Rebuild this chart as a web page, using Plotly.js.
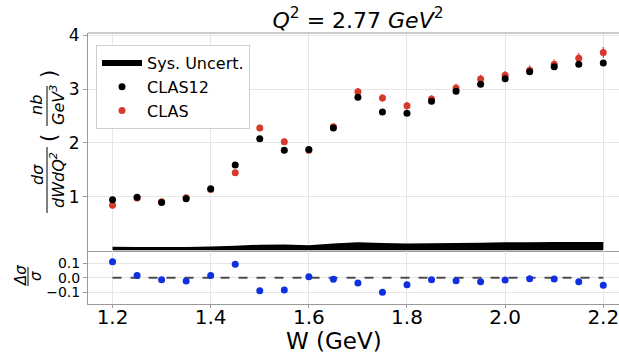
<!DOCTYPE html>
<html>
<head>
<meta charset="utf-8">
<script src="https://cdn.plot.ly/plotly-3.0.1.min.js"></script>
<style>html,body{margin:0;padding:0;background:#fff;overflow:hidden}</style>
</head>
<body>
<div id="chart" style="width:619px;height:353px"></div>
<script>
// W bins (GeV)
const W = [1.20, 1.25, 1.30, 1.35, 1.40, 1.45, 1.50, 1.55, 1.60, 1.65, 1.70, 1.75, 1.80, 1.85, 1.90, 1.95, 2.00, 2.05, 2.10, 2.15, 2.20];
// CLAS12 cross section (nb/GeV^3)
const clas12 = [0.944, 0.990, 0.895, 0.963, 1.148, 1.590, 2.075, 1.862, 1.876, 2.275, 2.846, 2.574, 2.550, 2.772, 2.957, 3.090, 3.190, 3.320, 3.415, 3.460, 3.485];
const clas12Err = [0.03, 0.03, 0.03, 0.03, 0.03, 0.04, 0.04, 0.04, 0.04, 0.04, 0.05, 0.05, 0.05, 0.05, 0.05, 0.05, 0.05, 0.05, 0.05, 0.05, 0.05];
// CLAS cross section (nb/GeV^3)
const clas = [0.840, 0.975, 0.905, 0.980, 1.135, 1.445, 2.275, 2.020, 1.865, 2.300, 2.950, 2.835, 2.690, 2.815, 3.020, 3.185, 3.255, 3.350, 3.460, 3.570, 3.680];
const clasErr = [0.04, 0.04, 0.04, 0.04, 0.04, 0.05, 0.06, 0.06, 0.06, 0.06, 0.07, 0.07, 0.07, 0.07, 0.08, 0.08, 0.08, 0.09, 0.09, 0.10, 0.10];
// Systematic uncertainty band height
const sysUnc = [0.070, 0.068, 0.065, 0.068, 0.075, 0.090, 0.110, 0.112, 0.100, 0.130, 0.155, 0.140, 0.130, 0.135, 0.140, 0.145, 0.155, 0.155, 0.160, 0.160, 0.160];
// Relative difference
const relDiff = [0.108, 0.015, -0.014, -0.023, 0.014, 0.092, -0.090, -0.085, 0.007, -0.011, -0.037, -0.099, -0.048, -0.014, -0.021, -0.028, -0.016, -0.007, -0.009, -0.028, -0.052];

const xTicks = [1.2, 1.4, 1.6, 1.8, 2.0, 2.2];
const yTicksMain = [1, 2, 3, 4];
const yTicksRatio = [-0.1, 0.0, 0.1];

const FONT = 'DejaVu Sans, sans-serif';
const SPINE = '#9a9a9a';
const GRID = '#e6e6e6';

const traces = [
  {x: W, y: sysUnc, type: 'scatter', mode: 'none', fill: 'tozeroy', fillcolor: '#000000',
   name: 'Sys. Uncert.', xaxis: 'x', yaxis: 'y', legendrank: 1},
  {x: W, y: clas, type: 'scatter', mode: 'markers', name: 'CLAS', xaxis: 'x', yaxis: 'y',
   marker: {color: '#d63a2c', size: 7},
   error_y: {type: 'data', array: clasErr, color: '#d63a2c', thickness: 1.2, width: 0},
   legendrank: 3},
  {x: W, y: clas12, type: 'scatter', mode: 'markers', name: 'CLAS12', xaxis: 'x', yaxis: 'y',
   marker: {color: '#000000', size: 7},
   error_y: {type: 'data', array: clas12Err, color: '#000000', thickness: 1.2, width: 0},
   legendrank: 2},
  {x: [W[0], W[W.length - 1]], y: [0, 0], type: 'scatter', mode: 'lines', xaxis: 'x2', yaxis: 'y2',
   line: {color: '#4d4d4d', dash: 'dash', width: 2}, showlegend: false},
  {x: W, y: relDiff, type: 'scatter', mode: 'markers', xaxis: 'x2', yaxis: 'y2',
   marker: {color: '#1030e0', size: 7}, showlegend: false}
];

// pixel -> paper helpers (plot area: left 88, width 531, top 33, height 271)
const px = v => (v - 88) / 531;
const py = v => (304 - v) / 271;

const ann = (text, x, y, size, italic, angle) => ({
  text: italic ? '<i>' + text + '</i>' : text,
  xref: 'paper', yref: 'paper', x: px(x), y: py(y), xanchor: 'center', yanchor: 'middle',
  showarrow: false, textangle: angle === undefined ? -90 : angle, font: {family: FONT, size: size, color: '#000'}
});
const bar = (x, y0, y1) => ({type: 'line', xref: 'paper', yref: 'paper', x0: px(x), x1: px(x), y0: py(y0), y1: py(y1),
  line: {color: '#000', width: 1}});

const layout = {
  width: 619, height: 353,
  margin: {l: 88, r: 0, t: 33, b: 49},
  paper_bgcolor: '#fff', plot_bgcolor: '#fff',
  font: {family: FONT, color: '#000'},
  showlegend: true,
  title: {text: '<i>Q</i><sup>2</sup> = 2.77 <i>GeV</i><sup>2</sup>', font: {family: FONT, size: 22, color: '#000'},
          x: 358 / 619, xanchor: 'center', y: 1 - 20 / 353, yanchor: 'middle'},
  legend: {x: px(96), y: py(45), xanchor: 'left', yanchor: 'top', bgcolor: 'rgba(255,255,255,0.85)',
           bordercolor: '#d0d0d0', borderwidth: 1, font: {family: FONT, size: 16, color: '#000'},
           itemwidth: 40, traceorder: 'normal'},
  xaxis: {domain: [0, 1], range: [1.15, 2.232], anchor: 'y', tickvals: xTicks, showticklabels: false,
          showgrid: true, gridcolor: GRID, zeroline: false, showline: true, linecolor: SPINE, linewidth: 1, ticks: ''},
  yaxis: {domain: [0.197, 1], range: [0, 4.04], anchor: 'x', tickvals: yTicksMain, tickformat: 'd',
          ticks: 'outside', ticklen: 4, tickcolor: SPINE, showline: true, linecolor: SPINE, linewidth: 1,
          showgrid: true, gridcolor: GRID, zeroline: false, tickfont: {family: FONT, size: 17, color: '#000'}},
  xaxis2: {domain: [0, 1], range: [1.15, 2.232], anchor: 'y2', tickvals: xTicks, tickformat: '.1f',
           ticks: 'outside', ticklen: 3, tickcolor: SPINE, showline: true, linecolor: SPINE, linewidth: 1,
           showgrid: true, gridcolor: GRID, zeroline: false, tickfont: {family: FONT, size: 20, color: '#000'},
           ticklabeloverflow: 'allow', ticklabelstandoff: -8, automargin: false},
  yaxis2: {domain: [0, 0.197], range: [-0.18, 0.185], anchor: 'x2', tickvals: yTicksRatio, tickformat: '.1f',
           ticks: 'outside', ticklen: 4, tickcolor: SPINE, showline: true, linecolor: SPINE, linewidth: 1,
           showgrid: true, gridcolor: GRID, zeroline: false, tickfont: {family: FONT, size: 14, color: '#000'}},
  annotations: [
    ann('dσ', 37, 175, 16, true),
    ann('dWdQ<sup>2</sup>', 57, 180, 16, true),
    ann('(', 49, 138, 21, false),
    ann('nb', 37, 105, 16, true),
    ann('GeV<sup>3</sup>', 58, 105, 16, true),
    ann(')', 49, 74, 21, false),
    ann('Δσ', 21, 276, 15, true),
    ann('σ', 36, 276, 15, true),
    ann('W (GeV)', 334, 341, 23, false, 0)
  ],
  shapes: [
    {type: 'line', xref: 'paper', yref: 'paper', x0: 0, x1: 1, y0: 1, y1: 1, line: {color: SPINE, width: 1}},
    bar(47, 147, 213),
    bar(47, 86, 126),
    bar(28, 267, 286)
  ]
};

Plotly.newPlot('chart', traces, layout, {staticPlot: true, displayModeBar: false});
</script>
</body>
</html>
